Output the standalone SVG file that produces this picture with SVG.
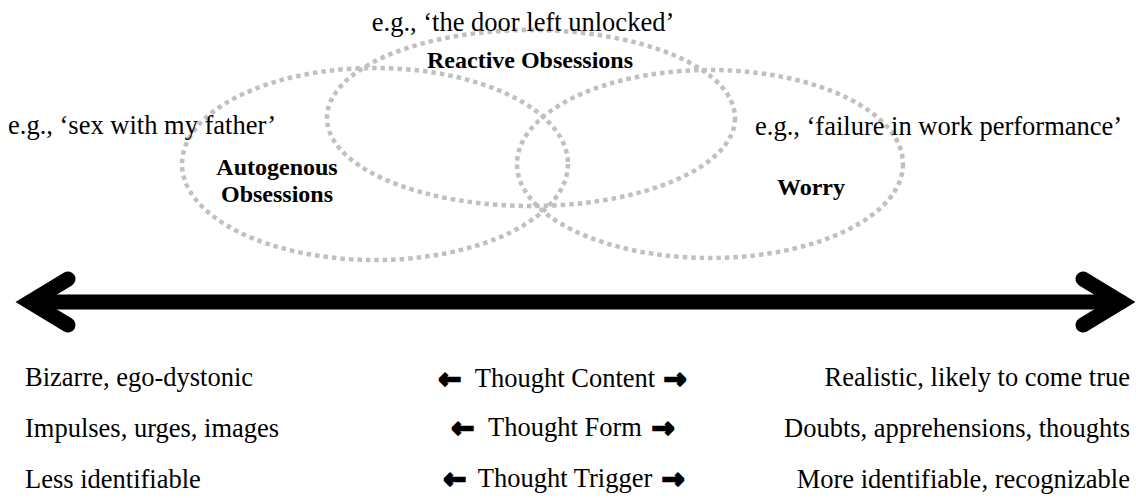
<svg xmlns="http://www.w3.org/2000/svg" width="1136" height="498" viewBox="0 0 1136 498">
  <style>
    .ring { fill: none; stroke: #c0c0c0; stroke-width: 4.5; stroke-dasharray: 4.5 4; }
    .t { font-family: "Liberation Serif", "Times New Roman", serif; font-size: 26.5px; fill: #000; }
    .b { font-family: "Liberation Serif", "Times New Roman", serif; font-size: 24px; font-weight: bold; fill: #000; }
    .ar { font-family: "DejaVu Sans", sans-serif; font-size: 27px; font-weight: bold; fill: #000; stroke: #000; stroke-width: 2.2; stroke-linejoin: miter; }
    .axis { fill: none; stroke: #000; stroke-width: 15; stroke-linecap: round; stroke-linejoin: miter; stroke-miterlimit: 10; }
  </style>
  <rect width="1136" height="498" fill="#fff"/>

  <g id="autogenous">
    <ellipse class="ring" cx="375" cy="164" rx="193" ry="96"/>
  </g>
  <g id="reactive">
    <ellipse class="ring" cx="531" cy="118" rx="204" ry="88"/>
  </g>
  <g id="worry">
    <ellipse class="ring" cx="710" cy="164" rx="193" ry="94"/>
  </g>

  <g id="autogenous-labels">
    <text class="t" x="8" y="134">e.g., ‘sex with my father’</text>
    <text class="b" x="277" y="175" text-anchor="middle">Autogenous</text>
    <text class="b" x="277" y="202" text-anchor="middle">Obsessions</text>
  </g>
  <g id="reactive-labels">
    <text class="t" x="523" y="31" text-anchor="middle">e.g., ‘the door left unlocked’</text>
    <text class="b" x="530" y="68" text-anchor="middle">Reactive Obsessions</text>
  </g>
  <g id="worry-labels">
    <text class="t" x="755" y="135">e.g., ‘failure in work performance’</text>
    <text class="b" x="811" y="195" text-anchor="middle">Worry</text>
  </g>

  <g id="connectors">
    <line class="axis" x1="30" y1="302" x2="1121" y2="302"/>
    <polyline class="axis" points="68,279 30,302 68,325"/>
    <polyline class="axis" points="1083,279 1121,302 1083,325"/>
  </g>

  <g id="dimensions">
    <text class="t" x="25" y="386">Bizarre, ego-dystonic</text>
    <text class="t" x="25" y="437">Impulses, urges, images</text>
    <text class="t" x="25" y="488">Less identifiable</text>

    <text class="ar" x="461" y="388" text-anchor="end">←</text>
    <text class="t" x="565" y="387" text-anchor="middle">Thought Content</text>
    <text class="ar" x="664" y="388">→</text>

    <text class="ar" x="474" y="437" text-anchor="end">←</text>
    <text class="t" x="565" y="436" text-anchor="middle">Thought Form</text>
    <text class="ar" x="652" y="437">→</text>

    <text class="ar" x="466" y="488" text-anchor="end">←</text>
    <text class="t" x="565" y="487" text-anchor="middle">Thought Trigger</text>
    <text class="ar" x="662" y="488">→</text>

    <text class="t" x="1130" y="386" text-anchor="end">Realistic, likely to come true</text>
    <text class="t" x="1130" y="437" text-anchor="end">Doubts, apprehensions, thoughts</text>
    <text class="t" x="1130" y="488" text-anchor="end">More identifiable, recognizable</text>
  </g>
</svg>
